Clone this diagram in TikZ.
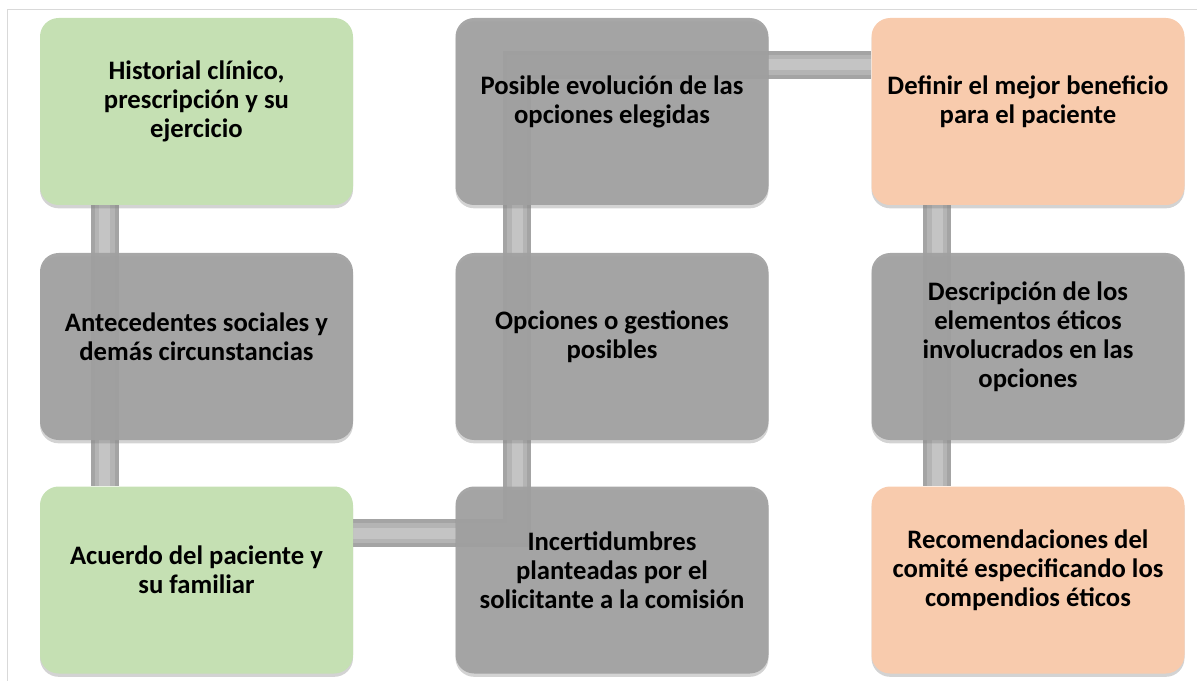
\documentclass[tikz,border=0pt]{standalone}
\usepackage{fontspec}
\setmainfont{Carlito}
\usetikzlibrary{shadows,% soft shadow under the boxes
backgrounds}%           puts the bars behind the boxes
\definecolor{greenfill}{HTML}{C5E0B3}
\definecolor{orangefill}{HTML}{F8CBAD}
\definecolor{boxgray}{HTML}{A0A0A0}
\definecolor{barout}{HTML}{A4A4A4}
\definecolor{barmid}{HTML}{B4B4B4}
\definecolor{barin}{HTML}{C4C4C4}
\definecolor{framegray}{HTML}{D9D9D9}
\tikzset{every node/.style={font=\bfseries\fontsize{20}{21.75}\selectfont}}

\begin{document}
\begin{tikzpicture}[x=0.75pt,y=-0.75pt,
  box/.style={rounded corners=14pt, minimum width=234.75pt, minimum height=140.25pt,
    inner sep=0pt, drop shadow={shadow xshift=0pt, shadow yshift=-2.5pt, opacity=0.35}},
  greenbox/.style={box, fill=greenfill},
  orangebox/.style={box, fill=orangefill},
  graybox/.style={box, fill=boxgray, fill opacity=0.92},
  boxtext/.style={align=center, yshift=7.5pt},
  bar/.style={line width=21pt, draw=barout,
    postaction={draw=barmid, line width=15pt},
    postaction={draw=barin, line width=8pt}}
% the bars are drawn on the background layer, under the boxes
]
\useasboundingbox (0,0) rectangle (1197,681);

% left column
\path (196.5,111.5) node[greenbox,
  label={[boxtext]center:{Historial clínico,\\ prescripción y su\\ ejercicio}}] (h1) {};
\path (196.5,346.5) node[graybox,
  label={[boxtext]center:{Antecedentes sociales y\\ demás circunstancias}}] (h2) {};
\path (196.5,580) node[greenbox,
  label={[boxtext]center:{Acuerdo del paciente y\\ su familiar}}] (h3) {};

% middle column
\path (612,111.5) node[graybox,
  label={[boxtext]center:{Posible evolución de las\\ opciones elegidas}}] (b1) {};
\path (612,346.5) node[graybox,
  label={[boxtext]center:{Opciones o gestiones\\ posibles}}] (b2) {};
\path (612,580) node[graybox,
  label={[boxtext]center:{Incertidumbres\\ planteadas por el\\ solicitante a la comisión}}] (b3) {};

% right column
\path (1028,111.5) node[orangebox,
  label={[boxtext]center:{Definir el mejor beneficio\\ para el paciente}}] (c1) {};
\path (1028,346.5) node[graybox,
  label={[boxtext]center:{Descripción de los\\ elementos éticos\\ involucrados en las\\ opciones}}] (c2) {};
\path (1028,580) node[orangebox,
  label={[boxtext]center:{Recomendaciones del\\ comité especificando los\\ compendios éticos}}] (c3) {};

\coordinate (k1) at ([xshift=46.5pt,yshift=-35.25pt]b3.north west);
\coordinate (k2) at ([xshift=46.5pt,yshift=-35.25pt]b1.north west);

\begin{scope}[on background layer]
\draw[framegray] (7,690) -- (7,9) -- (1200,9);
\draw[bar] ([xshift=48.75pt]h1.south west) -- ([xshift=48.75pt]h3.north west);
\draw[bar,line join=miter] ([yshift=-35.25pt]h3.north east) -- (k1) -- (k2)
  -- ([yshift=-35.25pt]c1.north west);
\draw[bar] ([xshift=49.5pt]c1.south west) -- ([xshift=49.5pt]c3.north west);
\end{scope}
\end{tikzpicture}
\end{document}
